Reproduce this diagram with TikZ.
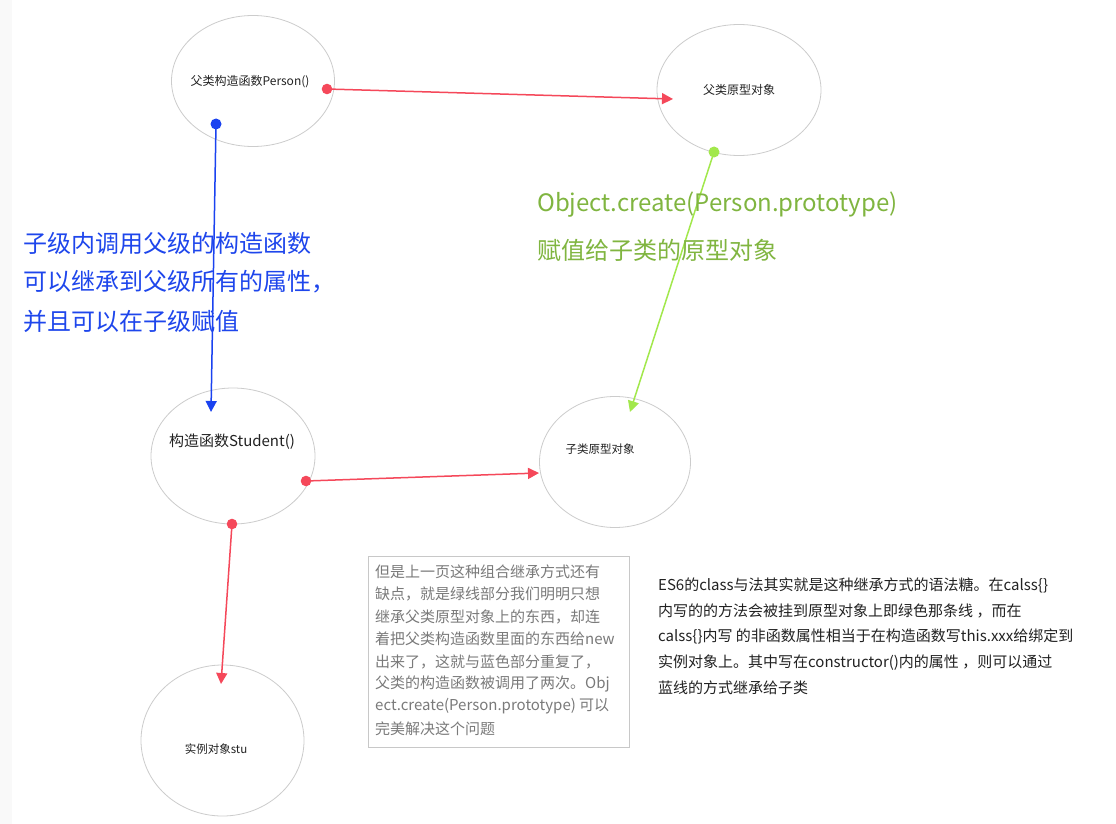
\documentclass[tikz,border=0pt]{standalone}
\usepackage{fontspec}
\setmainfont{Noto Sans CJK SC}
\usetikzlibrary{arrows.meta,shapes.geometric}
\definecolor{ellc}{HTML}{CCCCCC}
\definecolor{redc}{HTML}{F5485A}
\definecolor{bluec}{HTML}{1A42F0}
\definecolor{bluetxt}{HTML}{1E46EC}
\definecolor{greenl}{HTML}{A2E84C}
\definecolor{greent}{HTML}{80B540}
\definecolor{boxc}{HTML}{C8C8C8}
\definecolor{boxt}{HTML}{7A7A7A}
\definecolor{darkt}{HTML}{222222}
\definecolor{stripc}{HTML}{F9F9F9}
\newcommand\fsz[1]{\fontsize{#1}{#1}\selectfont}
\begin{document}
\begin{tikzpicture}[x=1pt,y=-1pt,
  oval/.style={ellipse, draw=ellc, line width=0.8pt, inner sep=0pt},
  lbl/.style={inner sep=0pt, text=darkt},
  lline/.style={inner sep=0pt, anchor=west},
  conn/.style={line width=1.5pt, -{Triangle[length=11pt,width=11pt]}},
]
\useasboundingbox (0,0) rectangle (1116,824);
\fill[white] (0,0) rectangle (1116,824);
\fill[stripc] (0,0) rectangle (12,824);

% ellipses
\node[oval, minimum width=163pt, minimum height=131pt] (person) at (253,81) {};
\node[oval, minimum width=164pt, minimum height=131pt] (fproto) at (739,90) {};
\node[oval, minimum width=164pt, minimum height=136pt] (student) at (233,456) {};
\node[oval, minimum width=151pt, minimum height=131pt] (sproto) at (615,462) {};
\node[oval, minimum width=163pt, minimum height=151pt] (stu) at (222.5,740.5) {};

% labels
\node[lbl, font=\fsz{12}] (personL) at (250,82) {父类构造函数Person()};
\node[lbl, font=\fsz{12}] (fprotoL) at (739,90) {父类原型对象};
\node[lbl, font=\fsz{15}] (studentL) at (232,442) {构造函数Student()};
\node[lbl, font=\fsz{11.5}] (sprotoL) at (600,449) {子类原型对象};
\node[lbl, font=\fsz{11.5}] (stuL) at (216,749) {实例对象stu};

% connector end points
\coordinate (pR) at ([shift={(74,8)}]person.center);
\coordinate (fIn) at ([shift={(-66,9)}]fproto.center);
\coordinate (pB) at ([shift={(-37,43)}]person.center);
\coordinate (sIn) at ([shift={(-22,-44)}]student.center);
\coordinate (fG) at ([shift={(-25,62)}]fproto.center);
\coordinate (spIn) at ([shift={(15,-50)}]sproto.center);
\coordinate (sR) at ([shift={(73,25)}]student.center);
\coordinate (spL) at ([shift={(-76,11)}]sproto.center);
\coordinate (sB) at ([shift={(-1,68)}]student.center);
\coordinate (stuIn) at ([shift={(-1.5,-56.5)}]stu.center);

% connectors
\draw[conn, draw=redc, fill=redc] (pR) -- (fIn);
\fill[redc] (pR) circle (5.3pt);
\draw[conn, draw=bluec, fill=bluec] (pB) -- (sIn);
\fill[bluec] (pB) circle (5.5pt);
\draw[conn, draw=greenl, fill=greenl] (fG) -- (spIn);
\fill[greenl] (fG) circle (5.5pt);
\draw[conn, draw=redc, fill=redc] (sR) -- (spL);
\fill[redc] (sR) circle (5.3pt);
\draw[conn, draw=redc, fill=redc] (sB) -- (stuIn);
\fill[redc] (sB) circle (5.3pt);

% blue annotation
\node[lline, font=\fsz{24}, text=bluetxt] (b1) at (23,243) {子级内调用父级的构造函数};
\node[lline, font=\fsz{24}, text=bluetxt] (b2) at (23,282) {可以继承到父级所有的属性，};
\node[lline, font=\fsz{24}, text=bluetxt] (b3) at (23,321) {并且可以在子级赋值};

% green annotation
\node[lline, font=\fsz{24}, text=greent] (g1) at (537,205) {Object.create(Person.prototype)};
\node[lline, font=\fsz{24}, text=greent] (g2) at (537,250) {赋值给子类的原型对象};

% gray box
\node[draw=boxc, line width=0.8pt, minimum width=261pt, minimum height=190.5pt, anchor=north west, inner sep=0pt] (box) at (367.5,556) {};
\foreach \t [count=\i from 0] in {但是上一页这种组合继承方式还有,缺点，就是绿线部分我们明明只想,继承父类原型对象上的东西，却连,着把父类构造函数里面的东西给new,出来了，这就与蓝色部分重复了，,父类的构造函数被调用了两次。Obj,ect.create(Person.prototype) 可以,完美解决这个问题}
  \node[lline, font=\fsz{15}, text=boxt] (bx\i) at (375,572+22.4*\i) {\t};

% right text
\foreach \t [count=\i from 0] in {ES6的class与法其实就是这种继承方式的语法糖。在calss\{\},内写的的方法会被挂到原型对象上即绿色那条线 ，而在,calss\{\}内写 的非函数属性相当于在构造函数写this.xxx给绑定到,实例对象上。其中写在constructor()内的属性 ，则可以通过,蓝线的方式继承给子类}
  \node[lline, font=\fsz{15}, text=darkt] (rt\i) at (658,585+25.8*\i) {\t};
\end{tikzpicture}
\end{document}
